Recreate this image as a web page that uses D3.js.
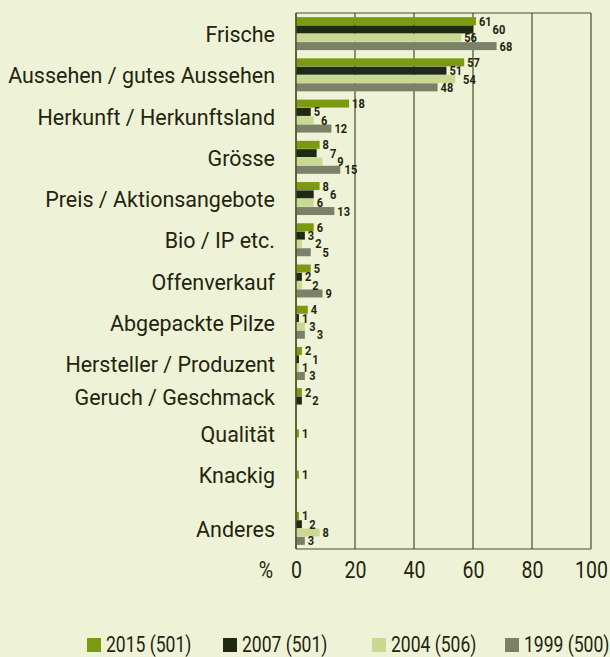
<!DOCTYPE html>
<html><head><meta charset="utf-8">
<script src="https://cdn.jsdelivr.net/npm/d3@7"></script>
<style>
html,body{margin:0;padding:0;background:#eef3d8;}
svg{display:block;}
text{font-family:Roboto,"DejaVu Sans Condensed",sans-serif;fill:#24240e;}
</style></head>
<body>
<script>
const categories = ["Frische","Aussehen / gutes Aussehen","Herkunft / Herkunftsland","Grösse","Preis / Aktionsangebote","Bio / IP etc.","Offenverkauf","Abgepackte Pilze","Hersteller / Produzent","Geruch / Geschmack","Qualität","Knackig","Anderes"];
const seriesNames = ["2015 (501)","2007 (501)","2004 (506)","1999 (500)"];
const v2015 = [61,57,18,8,8,6,5,4,2,2,1,1,1];
const v2007 = [60,51,5,7,6,3,2,1,1,2,null,null,2];
const v2004 = [56,54,6,9,6,2,2,3,1,null,null,null,8];
const v1999 = [68,48,12,15,13,5,9,3,3,null,null,null,3];
const xTicks = [0,20,40,60,80,100];
const colors = ["#7b9a12","#1f2a15","#c9d992","#7b8068"];

const W=610,H=657;
const svg=d3.select("body").append("svg").attr("width",W).attr("height",H);
const x=d3.scaleLinear().domain([0,100]).range([296,591]);
const y=d3.scaleBand().domain(categories).range([13,549]).paddingInner(0.2).paddingOuter(0.1);
const ys=d3.scaleBand().domain(d3.range(4)).range([0,y.bandwidth()]).paddingInner(0.04);
const series=[v2015,v2007,v2004,v1999];
const LINE="#4b4f22";

const probe=svg.append("text").attr("font-size",22.5).text("Aussehen / gutes Aussehen");
const SX=Math.min(1,267/probe.node().getComputedTextLength());
probe.remove();
const NX=0.85;   // condensing for numbers
const LX=0.78;   // condensing for legend

function ctext(g,tx,ty,size,str,anchor,weight,sx){
  return g.append("text").attr("transform",`translate(${tx},${ty}) scale(${sx},1)`)
    .attr("text-anchor",anchor||"start").attr("font-size",size).attr("font-weight",weight||"normal").text(str);
}

// grid
const grid=svg.append("g");
grid.selectAll("line.v").data(xTicks).join("line")
  .attr("x1",d=>x(d)).attr("x2",d=>x(d)).attr("y1",13).attr("y2",549)
  .attr("stroke",LINE).attr("stroke-width",1.2);
grid.append("line").attr("x1",x(0)).attr("x2",x(100)).attr("y1",13).attr("y2",13).attr("stroke",LINE).attr("stroke-width",1.2);
grid.append("line").attr("x1",x(0)).attr("x2",x(100)).attr("y1",549).attr("y2",549).attr("stroke",LINE).attr("stroke-width",1.2);

// bars
categories.forEach((c,i)=>{
  const g=svg.append("g");
  const placed=[];
  series.forEach((s,k)=>{
    const v=s[i]; if(v==null) return;
    const y0=y(c)+ys(k);
    g.append("rect").attr("x",x(0)).attr("y",y0).attr("width",x(v)-x(0)).attr("height",ys.bandwidth()).attr("fill",colors[k]);
  });
  series.forEach((s,k)=>{
    const v=s[i]; if(v==null) return;
    const y0=y(c)+ys(k);
    const ty=y0+ys.bandwidth()/2+4.5;
    const t=ctext(g,0,0,13,v,"start","bold",NX);
    const w=t.node().getComputedTextLength()*NX;
    let tx=x(v)+3;
    let moved=true;
    while(moved){
      moved=false;
      placed.forEach(p=>{
        if(Math.abs(p.y-ty)<12 && tx<p.x+p.w+1 && tx+w>p.x-1){ tx=p.x+p.w+1; moved=true; }
      });
    }
    placed.push({x:tx,y:ty,w:w});
    t.attr("transform",`translate(${tx},${ty}) scale(${NX},1)`);
  });
  const present=series.map((s,k)=>s[i]==null?null:y(c)+ys(k)+ys.bandwidth()/2).filter(d=>d!=null);
  const cy=d3.mean(present);
  ctext(svg,275,cy+8.5,22.5,c,"end","normal",SX);
});
svg.append("line").attr("x1",x(0)).attr("x2",x(0)).attr("y1",13).attr("y2",549).attr("stroke",LINE).attr("stroke-width",1.4);

// x axis labels
const ax=svg.append("g").attr("transform","translate(0,578)").call(d3.axisBottom(x).tickValues(xTicks).tickSize(0).tickPadding(0));
ax.select(".domain").remove();
ax.selectAll("text").attr("font-size",23).attr("dy",0).attr("y",0)
  .attr("font-family","Roboto, DejaVu Sans Condensed, sans-serif").attr("fill","#24240e")
  .attr("transform",`scale(${NX},1)`);
ctext(svg,266,578,23,"%","middle","normal",NX);

// legend
const legX=[87,223,372,505];
seriesNames.forEach((n,k)=>{
  svg.append("rect").attr("x",legX[k]).attr("y",638).attr("width",14).attr("height",14).attr("fill",colors[k]);
  ctext(svg,legX[k]+19,652,22.5,n,"start","normal",LX);
});
</script>
</body></html>
